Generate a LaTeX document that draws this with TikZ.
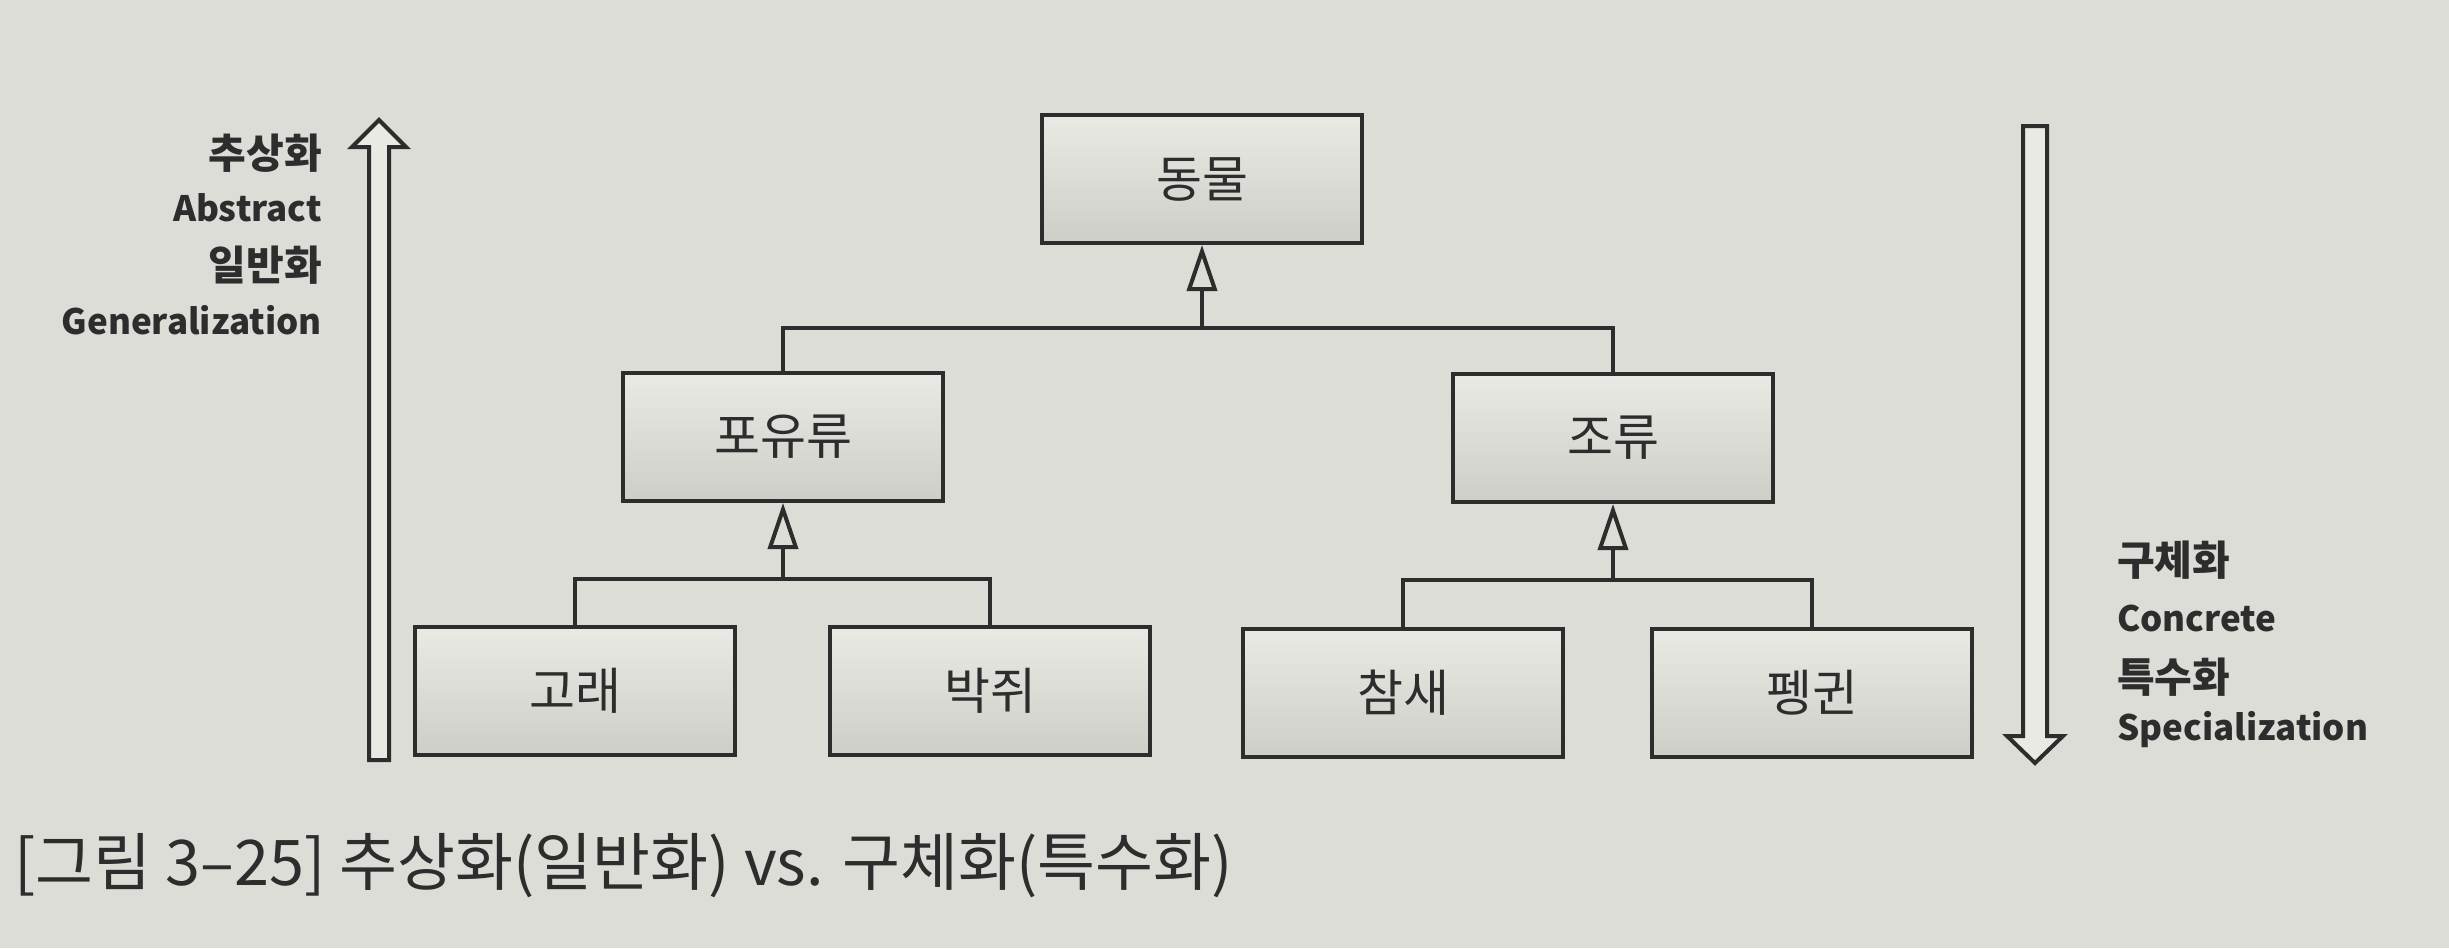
\documentclass[tikz,border=0pt]{standalone}
\usepackage{fontspec}
\setmainfont{Noto Sans CJK KR}
\usetikzlibrary{arrows.meta}
\definecolor{bg}{RGB}{221,221,216}
\definecolor{ink}{RGB}{45,45,45}
\definecolor{boxtop}{RGB}{234,234,229}
\definecolor{boxbot}{RGB}{206,206,201}
\begin{document}
\begin{tikzpicture}[x=1pt,y=-1pt,
  cls/.style={draw=ink, line width=4pt, minimum width=320pt, minimum height=128pt,
    top color=boxtop, bottom color=boxbot, font=\fontsize{50}{60}\selectfont, text=ink, inner sep=0pt},
  link/.style={draw=ink, line width=4pt},
  gen/.style={link, -{Triangle[open, length=46pt, width=30pt]}},
  side/.style={font=\fontsize{41}{48}\selectfont\bfseries, text=ink, inner sep=0pt},
  sidel/.style={font=\fontsize{35}{40}\selectfont\bfseries, text=ink, inner sep=0pt},
  bigarrow/.style={draw=ink, line width=4pt, fill=boxtop, line join=miter}]
\fill[bg] (0,0) rectangle (2449,948);
% classes
\node[cls] (animal) at (1202,179) {동물};
\node[cls] (mammal) at (783,437) {포유류};
\node[cls] (bird) at (1613,438) {조류};
\node[cls] (whale) at (575,691) {고래};
\node[cls] (bat) at (990,691) {박쥐};
\node[cls] (sparrow) at (1403,693) {참새};
\node[cls] (penguin) at (1812,693) {펭귄};
% generalization connectors
\coordinate (b1) at (1202,328);
\coordinate (b2) at (783,579);
\coordinate (b3) at (1613,580);
\draw[link] (mammal.north) |- (b1) -| (bird.north);
\draw[gen] (b1) -- (animal.south);
\draw[link] (whale.north) |- (b2) -| (bat.north);
\draw[gen] (b2) -- (mammal.south);
\draw[link] (sparrow.north) |- (b3) -| (penguin.north);
\draw[gen] (b3) -- (bird.south);
% big arrows
\draw[bigarrow] (369,760) -- (369,147) -- (352,147) -- (379,120) -- (406,147) -- (389,147) -- (389,760) -- cycle;
\draw[bigarrow] (2023,126) -- (2047,126) -- (2047,736) -- (2063,736) -- (2035,763) -- (2007,736) -- (2023,736) -- cycle;
% side labels
\node[side, anchor=east] (l1) at (322,153) {추상화};
\node[sidel, anchor=east] (l2) at (322,208) {Abstract};
\node[side, anchor=east] (l3) at (322,265) {일반화};
\node[sidel, anchor=east] (l4) at (322,320) {Generalization};
\node[side, anchor=west] (r1) at (2117,560) {구체화};
\node[sidel, anchor=west] (r2) at (2117,618) {Concrete};
\node[side, anchor=west] (r3) at (2117,677) {특수화};
\node[sidel, anchor=west] (r4) at (2117,730) {Specialization};
% caption
\node[anchor=west, inner sep=0pt, font=\fontsize{63}{73}\selectfont, text=ink] (cap) at (14,866) {[그림 3–25] 추상화(일반화) vs. 구체화(특수화)};
\end{tikzpicture}
\end{document}
